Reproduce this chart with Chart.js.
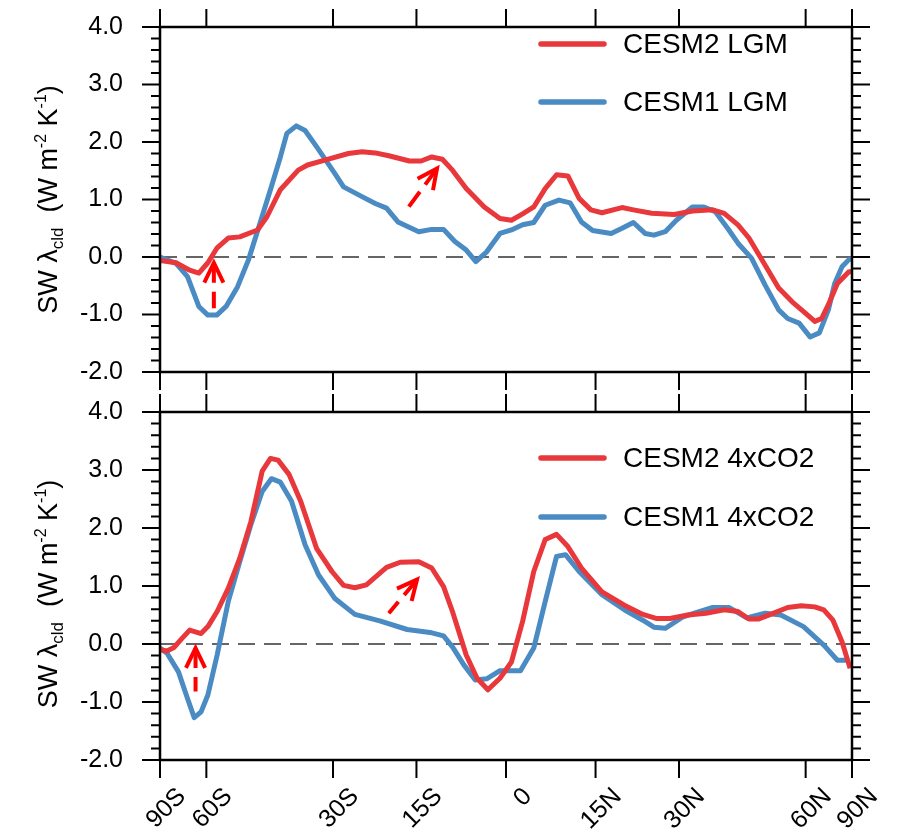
<!DOCTYPE html>
<html>
<head>
<meta charset="utf-8">
<script src="https://cdn.jsdelivr.net/npm/chart.js@4.4.0/dist/chart.umd.min.js"></script>
<style>
body { margin: 0; background: #fff; }
#wrap { position: relative; width: 900px; height: 829px; }
canvas { position: absolute; left: 0; }
</style>
</head>
<body>
<div id="wrap">
  <canvas id="topChart" width="900" height="392" style="top:0px"></canvas>
  <canvas id="bottomChart" width="900" height="437" style="top:392px"></canvas>
</div>
<script>
// latitude ticks (axis is area weighted: position = sin(lat))
const tickLats = [-90, -60, -30, -15, 0, 15, 30, 60, 90];
const tickLabels = ['90S', '60S', '30S', '15S', '0', '15N', '30N', '60N', '90N'];
const yTickVals = [-2, -1, 0, 1, 2, 3, 4];

// top panel: LGM
const lgm2Lat = [-90, -72.5, -66.1, -62.6, -59.5, -56.6, -53.4, -50.3, -45.9, -43.7, -40.7, -36.9, -35, -31.4, -27.1, -24.6, -22.2, -19.8, -16.2, -14.2, -12.4, -10.6, -8.9, -6.6, -3.6, -1, 0.9, 2.75, 4.6, 6.5, 8.4, 10.3, 12.2, 14.2, 16.1, 19.6, 21.6, 24.9, 29.1, 32.6, 36.7, 39.1, 42.1, 44.6, 47.3, 52, 55.8, 60, 63.2, 65.8, 68.7, 73.3, 82, 88];
const lgm2Val = [-0.06, -0.10, -0.23, -0.28, -0.10, 0.16, 0.33, 0.35, 0.47, 0.70, 1.17, 1.51, 1.60, 1.69, 1.80, 1.83, 1.81, 1.76, 1.67, 1.67, 1.74, 1.70, 1.51, 1.19, 0.87, 0.67, 0.64, 0.75, 0.87, 1.19, 1.43, 1.41, 1.02, 0.82, 0.77, 0.86, 0.82, 0.76, 0.74, 0.80, 0.82, 0.76, 0.56, 0.33, 0.0, -0.54, -0.78, -0.98, -1.12, -1.07, -0.83, -0.46, -0.26, -0.25];
const lgm1Lat = [-90, -72.5, -67, -62.6, -59.5, -56.7, -54, -50.9, -48.1, -45.3, -42.7, -40.7, -39.3, -37.3, -35.5, -33.2, -29.7, -28, -24.6, -22.2, -20.2, -18.2, -14.6, -12.4, -10.4, -8.5, -6.6, -5, -3.2, -1, 0.9, 2.75, 4.6, 6.5, 8.8, 10.7, 12.6, 14.5, 17.7, 19.6, 21.6, 23.7, 25.3, 27.4, 29.5, 32.6, 34.9, 37.2, 40.1, 42.1, 45.2, 48.5, 52, 54.5, 57.9, 61.5, 64.9, 68.7, 71.8, 76.2, 82, 88];
const lgm1Val = [0.0, -0.11, -0.34, -0.86, -1.01, -1.01, -0.86, -0.52, -0.05, 0.59, 1.22, 1.74, 2.15, 2.28, 2.20, 1.92, 1.46, 1.22, 1.05, 0.93, 0.85, 0.61, 0.44, 0.48, 0.48, 0.27, 0.12, -0.08, 0.09, 0.41, 0.47, 0.56, 0.60, 0.90, 0.99, 0.94, 0.61, 0.46, 0.41, 0.50, 0.60, 0.41, 0.38, 0.44, 0.64, 0.87, 0.87, 0.79, 0.47, 0.24, -0.02, -0.49, -0.92, -1.07, -1.15, -1.39, -1.32, -0.92, -0.46, -0.17, -0.05, -0.03];

// bottom panel: 4xCO2
const co2v2Lat = [-90, -78.4, -73.7, -70.1, -66.1, -61.8, -59.5, -56.6, -53.4, -50.3, -47.5, -44.8, -42.9, -41.2, -38.8, -36.4, -33.2, -30.2, -28, -25.9, -23.8, -20.2, -17.8, -14.6, -12.4, -10.4, -8.9, -6.6, -4.8, -3, -1, 0.9, 2.75, 4.6, 6.5, 8.4, 10.3, 12.6, 16.1, 20, 23.3, 25.7, 28.3, 31.7, 35.3, 39.1, 42.1, 44.6, 46.8, 50.2, 54.5, 58.6, 63.2, 66.7, 70.9, 76.2, 84];
const co2v2Val = [-0.10, -0.12, -0.06, 0.07, 0.24, 0.18, 0.30, 0.56, 0.96, 1.48, 2.11, 2.98, 3.20, 3.17, 2.92, 2.46, 1.65, 1.25, 1.01, 0.97, 1.02, 1.32, 1.41, 1.42, 1.31, 0.99, 0.56, -0.19, -0.59, -0.79, -0.59, -0.31, 0.39, 1.25, 1.80, 1.89, 1.68, 1.31, 0.90, 0.67, 0.51, 0.44, 0.44, 0.50, 0.53, 0.59, 0.56, 0.43, 0.43, 0.52, 0.63, 0.66, 0.64, 0.59, 0.41, 0.04, -0.42];
const co2v1Lat = [-90, -78.4, -71.2, -67, -64.3, -61.8, -59.5, -56.6, -53.4, -50.3, -47.5, -44.8, -42.7, -40.7, -38.3, -35.5, -32.8, -29.7, -25.9, -21.4, -16.6, -12.7, -10.4, -8.9, -7, -5.1, -3.2, -1, 2.4, 4.6, 6.5, 8.4, 9.9, 12.2, 16.1, 20, 23.3, 25.3, 27.4, 30.8, 36.7, 40.1, 44.1, 48.5, 52.6, 59.3, 66.7, 73.3, 82];
const co2v1Val = [-0.07, -0.16, -0.48, -0.94, -1.27, -1.17, -0.88, -0.19, 0.73, 1.42, 2.06, 2.63, 2.85, 2.79, 2.46, 1.71, 1.19, 0.79, 0.51, 0.40, 0.25, 0.20, 0.14, -0.05, -0.36, -0.62, -0.60, -0.46, -0.46, -0.07, 0.73, 1.51, 1.54, 1.25, 0.85, 0.59, 0.41, 0.29, 0.27, 0.47, 0.63, 0.63, 0.45, 0.53, 0.50, 0.30, -0.02, -0.28, -0.28];

// red dashed arrows: [latFrom, valFrom, latTo, valTo]
const lgmArrows = [[-57.6, -0.89, -57.6, -0.10], [-16.3, 0.875, -11.5, 1.54]];
const co2Arrows = [[-63.8, -0.82, -63.8, -0.07], [-19.8, 0.53, -14.9, 1.11]];

const RED = '#e8383b';
const BLUE = '#4a8bc4';
const FONT = "'Liberation Sans', Arial, Helvetica, sans-serif";

Chart.defaults.font.family = FONT;
Chart.defaults.color = '#000';

function sinDeg(l) { return Math.sin(l * Math.PI / 180); }

function toPoints(lats, vals) {
  return lats.map((l, i) => ({ x: sinDeg(l), y: vals[i] }));
}

function noPad(s) {
  s.paddingTop = 0; s.paddingBottom = 0; s.paddingLeft = 0; s.paddingRight = 0;
}

const panelDecor = {
  id: 'panelDecor',
  afterDatasetsDraw(chart, args, opts) {
    const ctx = chart.ctx, a = chart.chartArea;
    const xs = chart.scales.x, ys = chart.scales.y;
    ctx.save();

    // arrows
    ctx.strokeStyle = '#ff0000';
    ctx.lineWidth = 4;
    opts.arrows.forEach(ar => {
      const x0 = xs.getPixelForValue(sinDeg(ar[0])), y0 = ys.getPixelForValue(ar[1]);
      const x1 = xs.getPixelForValue(sinDeg(ar[2])), y1 = ys.getPixelForValue(ar[3]);
      ctx.setLineDash([20, 9]);
      ctx.beginPath(); ctx.moveTo(x1, y1); ctx.lineTo(x0, y0); ctx.stroke();
      ctx.setLineDash([]);
      const ang = Math.atan2(y1 - y0, x1 - x0);
      ctx.beginPath();
      ctx.moveTo(x1 - 22 * Math.cos(ang - 0.45), y1 - 22 * Math.sin(ang - 0.45));
      ctx.lineTo(x1, y1);
      ctx.lineTo(x1 - 22 * Math.cos(ang + 0.45), y1 - 22 * Math.sin(ang + 0.45));
      ctx.stroke();
    });

    // frame
    ctx.strokeStyle = '#000';
    ctx.lineWidth = 2.5;
    ctx.strokeRect(a.left, a.top, a.right - a.left, a.bottom - a.top);

    // x ticks (outward, top and bottom)
    ctx.lineWidth = 2;
    tickLats.forEach(l => {
      const x = xs.getPixelForValue(sinDeg(l));
      ctx.beginPath();
      ctx.moveTo(x, a.top); ctx.lineTo(x, a.top - 18);
      ctx.moveTo(x, a.bottom); ctx.lineTo(x, a.bottom + 18);
      ctx.stroke();
    });

    // y ticks, major every 1.0, minor every 0.2
    for (let i = -10; i <= 20; i++) {
      const y = ys.getPixelForValue(i / 5);
      const len = i % 5 === 0 ? 18 : 9;
      ctx.beginPath();
      ctx.moveTo(a.left - len, y); ctx.lineTo(a.left, y);
      ctx.moveTo(a.right, y); ctx.lineTo(a.right + len, y);
      ctx.stroke();
    }

    // legend
    ctx.lineCap = 'round';
    ctx.font = '28px ' + FONT;
    ctx.textBaseline = 'middle';
    ctx.textAlign = 'left';
    opts.legend.forEach((item, k) => {
      const y = a.top + opts.legendY[k];
      ctx.strokeStyle = item.color;
      ctx.lineWidth = 5.5;
      ctx.beginPath(); ctx.moveTo(541, y); ctx.lineTo(604, y); ctx.stroke();
      ctx.fillStyle = '#000';
      ctx.fillText(item.label, 623, y + 1);
    });

    // y axis title: SW λcld (W m-2 K-1)
    const parts = [
      { t: 'SW \u03BB', s: 27, dy: 0 },
      { t: 'cld', s: 17, dy: 6 },
      { t: '  (W m', s: 27, dy: 0 },
      { t: '-2', s: 16, dy: -11 },
      { t: ' K', s: 27, dy: 0 },
      { t: '-1', s: 16, dy: -11 },
      { t: ')', s: 27, dy: 0 }
    ];
    ctx.fillStyle = '#000';
    ctx.textBaseline = 'alphabetic';
    let total = 0;
    parts.forEach(p => { ctx.font = p.s + 'px ' + FONT; total += ctx.measureText(p.t).width; });
    ctx.translate(47, (a.top + a.bottom) / 2 + opts.titleDy);
    ctx.rotate(-Math.PI / 2);
    let px = -total / 2;
    parts.forEach(p => {
      ctx.font = p.s + 'px ' + FONT;
      ctx.fillText(p.t, px, 10 + p.dy);
      px += ctx.measureText(p.t).width;
    });
    ctx.restore();
  }
};

function makePanel(id, red, blue, legend, legendY, arrows, showX, pad, titleDy) {
  return new Chart(document.getElementById(id), {
    type: 'line',
    data: {
      datasets: [
        { data: toPoints(red[0], red[1]), borderColor: RED, borderWidth: 5, pointRadius: 0, tension: 0, borderJoinStyle: 'round' },
        { data: toPoints(blue[0], blue[1]), borderColor: BLUE, borderWidth: 5, pointRadius: 0, tension: 0, borderJoinStyle: 'round' },
        { data: [{ x: -1, y: 0 }, { x: 1, y: 0 }], borderColor: '#333', borderWidth: 1.6, borderDash: [17, 9], pointRadius: 0 }
      ]
    },
    options: {
      responsive: false,
      animation: false,
      events: [],
      layout: { padding: pad, autoPadding: false },
      plugins: {
        legend: { display: false },
        tooltip: { enabled: false },
        panelDecor: { legend: legend, legendY: legendY, arrows: arrows, titleDy: titleDy }
      },
      scales: {
        x: {
          type: 'linear', min: -1, max: 1, display: showX,
          afterBuildTicks: s => { s.ticks = tickLats.map(l => ({ value: sinDeg(l) })); },
          afterFit: s => { noPad(s); s.height = showX ? 69 : 0; },
          grid: { display: false, drawTicks: false },
          border: { display: false },
          ticks: {
            autoSkip: false, minRotation: 45, maxRotation: 45,
            padding: 22, labelOffset: 22,
            font: { size: 25 }, color: '#000',
            callback: (v, i) => tickLabels[i]
          }
        },
        y: {
          min: -2, max: 4,
          afterBuildTicks: s => { s.ticks = yTickVals.map(v => ({ value: v })); },
          afterFit: s => { noPad(s); s.width = 160; },
          grid: { display: false, drawTicks: false },
          border: { display: false },
          ticks: { padding: 37, font: { size: 25 }, color: '#000', callback: v => v.toFixed(1) }
        }
      }
    },
    plugins: [panelDecor]
  });
}

makePanel('topChart', [lgm2Lat, lgm2Val], [lgm1Lat, lgm1Val],
  [{ label: 'CESM2 LGM', color: RED }, { label: 'CESM1 LGM', color: BLUE }], [17, 75],
  lgmArrows, false, { left: 0, right: 48, top: 27, bottom: 20 }, 0);

makePanel('bottomChart', [co2v2Lat, co2v2Val], [co2v1Lat, co2v1Val],
  [{ label: 'CESM2 4xCO2', color: RED }, { label: 'CESM1 4xCO2', color: BLUE }], [46, 105],
  co2Arrows, true, { left: 0, right: 48, top: 20, bottom: 0 }, 8);
</script>
</body>
</html>
